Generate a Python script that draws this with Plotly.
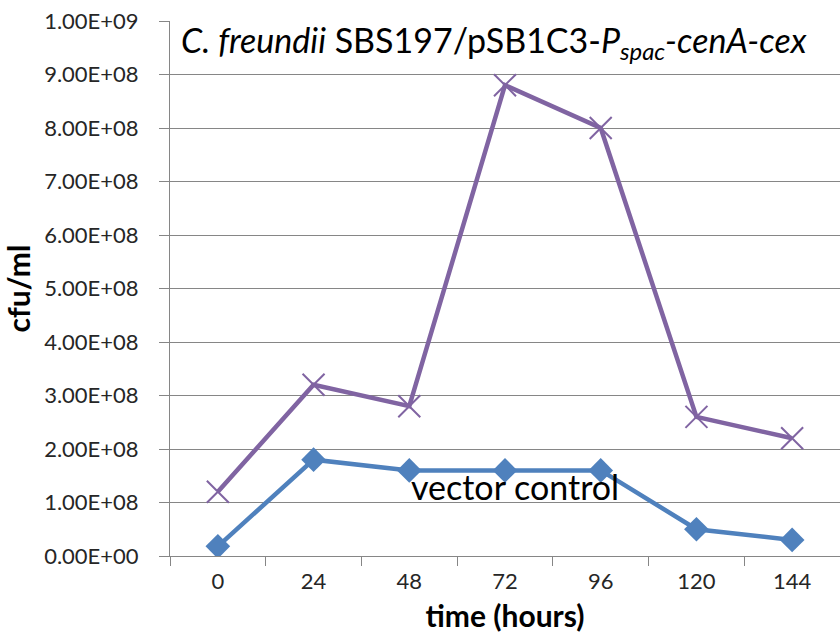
import plotly.graph_objects as go

times = ["0", "24", "48", "72", "96", "120", "144"]
construct = [1.2e8, 3.2e8, 2.8e8, 8.8e8, 8.0e8, 2.6e8, 2.2e8]
vector_control = [1.8e7, 1.8e8, 1.6e8, 1.6e8, 1.6e8, 5.0e7, 3.0e7]
ytick_vals = [i * 1e8 for i in range(11)]
ytick_text = ["0.00E+00", "1.00E+08", "2.00E+08", "3.00E+08", "4.00E+08", "5.00E+08",
              "6.00E+08", "7.00E+08", "8.00E+08", "9.00E+08", "1.00E+09"]

FONT = "Lato, Carlito, 'Open Sans', sans-serif"
BLUE = "#4F81BD"
PURPLE = "#8064A2"
GRID = "#868686"
TXT = "#262626"

fig = go.Figure()
fig.add_trace(go.Scatter(
    x=times, y=construct, mode="lines+markers",
    line=dict(color=PURPLE, width=4.5),
    marker=dict(symbol="x-thin-open", size=22, line=dict(color=PURPLE, width=2), color=PURPLE),
    showlegend=False,
))
fig.add_trace(go.Scatter(
    x=times, y=vector_control, mode="lines+markers",
    line=dict(color=BLUE, width=4.5),
    marker=dict(symbol="diamond", size=19, color=BLUE),
    showlegend=False,
))

fig.add_annotation(
    x=0, y=0.96, xref="paper", yref="paper", xanchor="left", yanchor="middle",
    xshift=9,
    text="<i>C. freundii</i> SBS197/pSB1C3-<i>P<sub>spac</sub>-cenA-cex</i>",
    showarrow=False, font=dict(family=FONT, size=34, color="black"),
)
fig.add_annotation(
    x=2.0, y=1.29e8, xref="x", yref="y", xanchor="left", yanchor="middle",
    text="vector control", showarrow=False,
    font=dict(family=FONT, size=34, color="black"),
)

fig.update_layout(
    width=840, height=639,
    margin=dict(l=170, r=0, t=21, b=83),
    paper_bgcolor="white", plot_bgcolor="white",
    font=dict(family=FONT, size=22, color=TXT),
    xaxis=dict(
        type="category", range=[-0.5, 6.5],
        tickson="boundaries", ticks="outside", ticklen=9, tickcolor=GRID, tickwidth=1,
        ticklabelstandoff=6,
        showgrid=False, showline=True, linecolor=GRID, linewidth=1,
        tickfont=dict(family=FONT, size=22, color=TXT),
        title=dict(text="<b>time (hours)</b>", font=dict(family=FONT, size=30, color="black"), standoff=12),
    ),
    yaxis=dict(
        range=[0, 1e9], tickvals=ytick_vals, ticktext=ytick_text,
        ticks="outside", ticklen=10, tickcolor=GRID, tickwidth=1,
        ticklabelstandoff=16,
        showgrid=True, gridcolor=GRID, gridwidth=1,
        showline=True, linecolor=GRID, linewidth=1, zeroline=False,
        tickfont=dict(family=FONT, size=22, color=TXT),
        title=dict(text="<b>cfu/ml</b>", font=dict(family=FONT, size=30, color="black"), standoff=8),
    ),
)

fig.write_html("out.html")
